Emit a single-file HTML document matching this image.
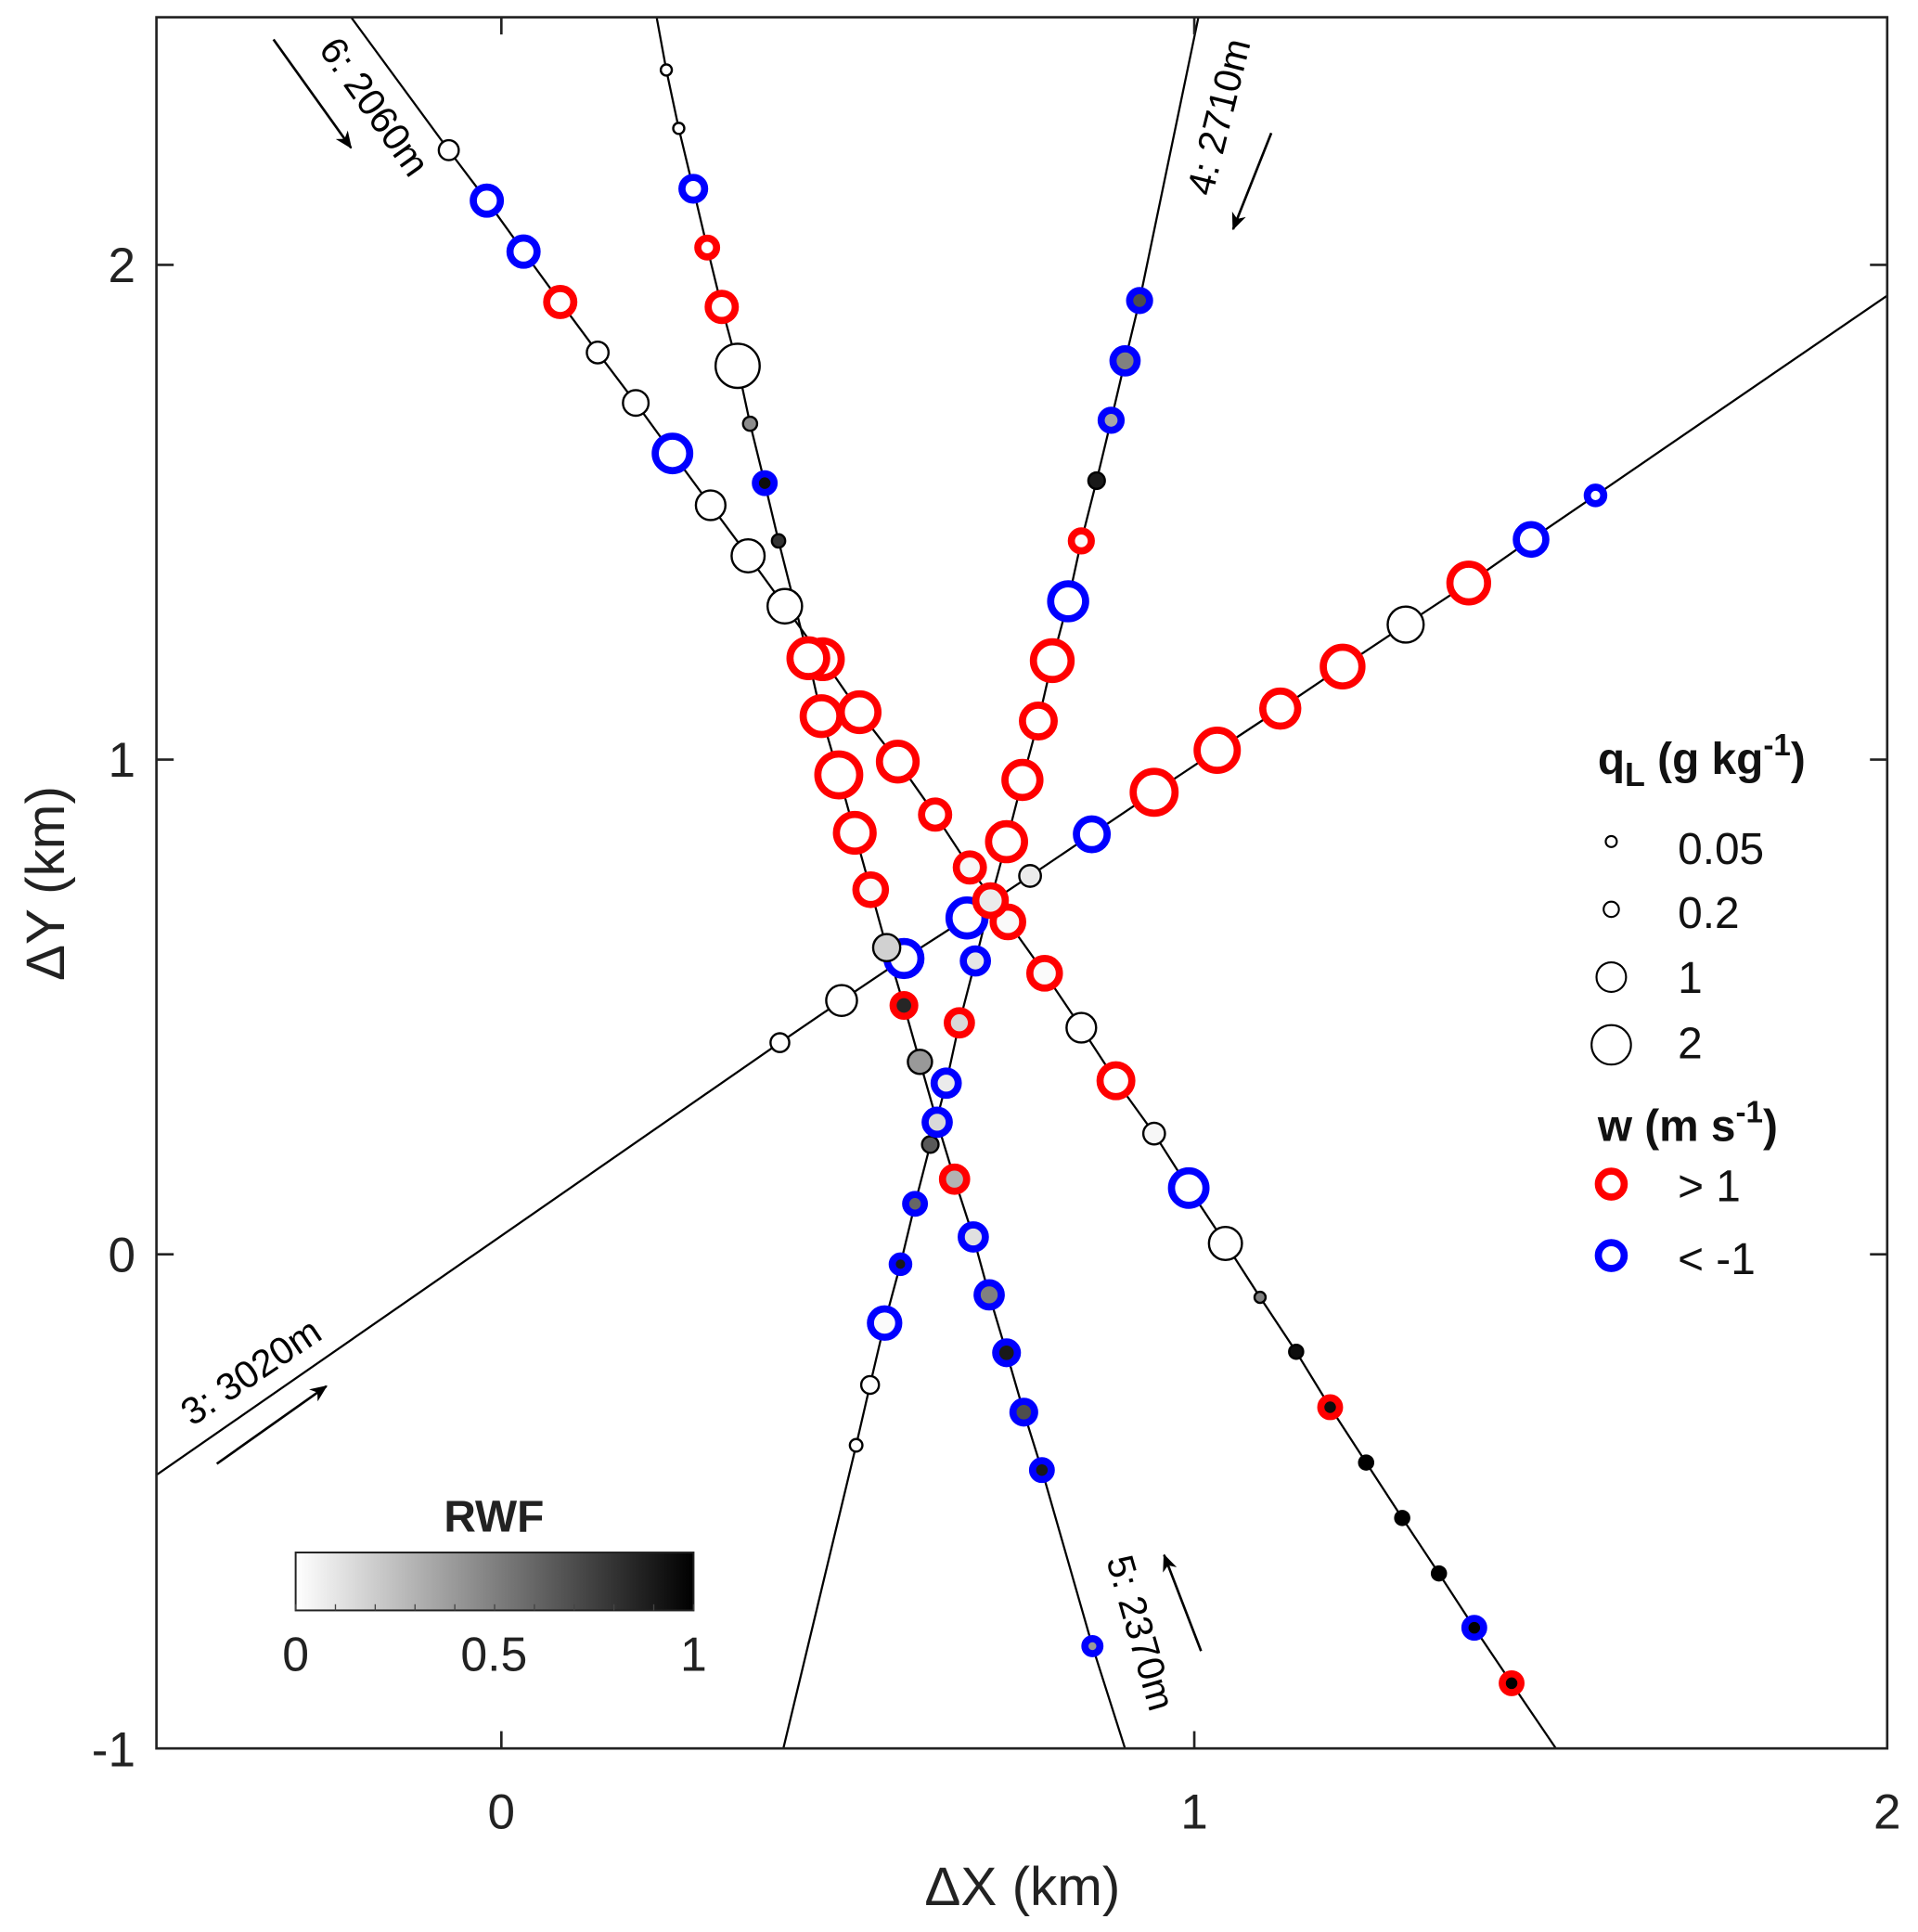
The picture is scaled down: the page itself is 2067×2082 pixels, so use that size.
<!DOCTYPE html>
<html><head><meta charset="utf-8"><style>
html,body{margin:0;padding:0;background:#fff;}
svg{display:block;font-family:"Liberation Sans",Arial,sans-serif;}
</style></head><body>
<svg id="chart" width="2067" height="2082" viewBox="0 0 1557 1568" preserveAspectRatio="none" xmlns="http://www.w3.org/2000/svg">
<defs>
<linearGradient id="rwfgrad" x1="0" x2="1" y1="0" y2="0"><stop offset="0" stop-color="#fff"/><stop offset="1" stop-color="#000"/></linearGradient>
<marker id="arr" markerWidth="14" markerHeight="12" refX="13" refY="6" orient="auto" markerUnits="userSpaceOnUse"><path d="M0,0 L14,6 L0,12 L4,6 Z" fill="#000"/></marker>
</defs>
<g id="lines"></g>
<g id="points"></g>
<rect x="127" y="14" width="1405" height="1405" fill="none" stroke="#222" stroke-width="2"/>
<g id="axes"></g>
<text x="830" y="1546" font-size="44" text-anchor="middle" fill="#222">ΔX (km)</text>
<text transform="translate(52,717) rotate(-90)" font-size="44" text-anchor="middle" fill="#222">ΔY (km)</text>
<!-- transect labels -->
<text transform="translate(258,40) rotate(54.7)" font-size="31" fill="#000">6: 2060m</text>
<line x1="222" y1="32" x2="285" y2="120" stroke="#000" stroke-width="2" marker-end="url(#arr)"/>
<text transform="translate(984,160) rotate(-76)" font-size="31" fill="#000">4: 2710m</text>
<line x1="1032" y1="108" x2="1001" y2="186" stroke="#000" stroke-width="2" marker-end="url(#arr)"/>
<text transform="translate(156,1158) rotate(-34)" font-size="31" fill="#000">3: 3020m</text>
<line x1="176" y1="1188" x2="265" y2="1125" stroke="#000" stroke-width="2" marker-end="url(#arr)"/>
<text transform="translate(898,1266) rotate(74)" font-size="31" fill="#000">5: 2370m</text>
<line x1="975" y1="1340" x2="945" y2="1262" stroke="#000" stroke-width="2" marker-end="url(#arr)"/>
<!-- colorbar -->
<g>
<text x="401" y="1243" font-size="36" font-weight="bold" text-anchor="middle" fill="#222">RWF</text>
<rect x="240" y="1260" width="323" height="47" fill="url(#rwfgrad)" stroke="#222" stroke-width="1.5"/>
<g id="cbticks"></g>
<text x="240" y="1356" font-size="39" text-anchor="middle" fill="#222">0</text>
<text x="401" y="1356" font-size="39" text-anchor="middle" fill="#222">0.5</text>
<text x="563" y="1356" font-size="39" text-anchor="middle" fill="#222">1</text>
</g>
<!-- legend -->
<g>
<text x="1297" y="628" font-size="36" font-weight="bold" fill="#111">q<tspan font-size="27" dy="10">L</tspan><tspan dy="-10"> (g kg</tspan><tspan font-size="25" dy="-15">-1</tspan><tspan dy="15">)</tspan></text>
<circle cx="1308" cy="683" r="4.5" fill="#fff" stroke="#000" stroke-width="1.6"/>
<text x="1362" y="701" font-size="36" fill="#111">0.05</text>
<circle cx="1308" cy="738" r="6.2" fill="#fff" stroke="#000" stroke-width="1.6"/>
<text x="1362" y="753" font-size="36" fill="#111">0.2</text>
<circle cx="1308" cy="793" r="12" fill="#fff" stroke="#000" stroke-width="1.6"/>
<text x="1362" y="806" font-size="36" fill="#111">1</text>
<circle cx="1308" cy="848" r="16" fill="#fff" stroke="#000" stroke-width="1.6"/>
<text x="1362" y="859" font-size="36" fill="#111">2</text>
<text x="1297" y="926" font-size="36" font-weight="bold" fill="#111">w (m s<tspan font-size="25" dy="-15">-1</tspan><tspan dy="15">)</tspan></text>
<circle cx="1308" cy="961" r="10.5" fill="#fff" stroke="#ff0000" stroke-width="5.8"/>
<text x="1362" y="975" font-size="36" fill="#111">&gt; 1</text>
<circle cx="1308" cy="1019" r="10.5" fill="#fff" stroke="#0000ff" stroke-width="5.8"/>
<text x="1362" y="1034" font-size="36" fill="#111">&lt; -1</text>
</g>
</svg>
<script>
// ---- data (km) ----
var t6X=[-0.076,-0.021,0.032,0.085,0.139,0.194,0.247,0.302,0.356,0.409,0.464,0.517,0.572,0.626,0.676,0.731,0.784,0.837,0.887,0.942,0.992,1.045,1.095,1.147,1.196,1.248,1.300,1.353,1.404,1.458];
var t6Y=[2.232,2.130,2.027,1.925,1.823,1.721,1.619,1.514,1.412,1.310,1.203,1.096,0.996,0.889,0.782,0.672,0.568,0.458,0.351,0.244,0.134,0.022,-0.087,-0.197,-0.309,-0.421,-0.533,-0.645,-0.755,-0.867];
var t6Q=[0.35,0.8,0.8,0.8,0.45,0.7,1.45,1.0,1.3,1.45,1.7,1.7,1.7,0.8,0.8,1.0,1.0,1.0,1.2,0.45,1.45,1.3,0.05,0.12,0.3,0.12,0.12,0.12,0.3,0.3];
var t6R=[0,0,0,0,0,0,0,0,0,0,0,0,0,0,0.03,0.02,0.02,0,0,0.03,0,0,0.5,0.95,0.95,1,1,1,1,1];
var t6W=[0,-1,-1,1,0,0,-1,0,0,0,1,1,1,1,1,1,1,0,1,0,-1,0,0,0,1,0,0,0,-1,1];
var t6Ends=[[-0.217,2.501],[1.522,-0.999]];

var t5X=[0.238,0.256,0.277,0.297,0.318,0.341,0.359,0.380,0.400,0.443,0.462,0.487,0.510,0.533,0.556,0.581,0.604,0.629,0.654,0.681,0.704,0.729,0.754,0.780,0.853];
var t5Y=[2.394,2.276,2.154,2.035,1.915,1.796,1.679,1.559,1.442,1.205,1.088,0.969,0.852,0.737,0.620,0.503,0.389,0.267,0.152,0.035,-0.082,-0.199,-0.319,-0.436,-0.792];
var t5Q=[0.05,0.05,0.5,0.3,0.8,2.6,0.12,0.3,0.1,1.7,1.7,2.3,1.7,1.0,0.8,0.45,0.6,0.6,0.6,0.6,0.6,0.45,0.45,0.3,0.15];
var t5R=[0,0,0,0,0,0,0.45,0.95,0.8,0,0,0,0,0.02,0.18,0.85,0.4,0.15,0.3,0.12,0.5,0.9,0.7,0.9,0.4];
var t5W=[0,0,-1,1,1,0,0,-1,0,1,1,1,1,1,0,1,0,-1,1,-1,-1,-1,-1,-1,-1];
var t5Ends=[[0.224,2.501],[0.900,-0.999]];

var t4X=[0.921,0.900,0.880,0.859,0.837,0.818,0.795,0.775,0.752,0.729,0.706,0.684,0.661,0.642,0.619,0.597,0.576,0.553,0.532,0.512];
var t4Y=[1.928,1.806,1.686,1.564,1.442,1.320,1.200,1.078,0.959,0.834,0.715,0.593,0.468,0.346,0.222,0.102,-0.020,-0.139,-0.264,-0.386];
var t4Q=[0.35,0.6,0.35,0.2,0.35,1.5,1.8,1.2,1.5,1.6,1.0,0.6,0.6,0.6,0.2,0.3,0.2,0.9,0.25,0.08];
var t4R=[0.7,0.5,0.35,0.9,0.02,0,0,0,0,0,0.08,0.1,0.15,0.08,0.65,0.6,0.9,0.02,0,0];
var t4W=[-1,-1,-1,0,1,-1,1,1,1,1,1,-1,1,-1,0,-1,-1,-1,0,0];
var t4Ends=[[1.006,2.501],[0.407,-0.999]];

var t3X=[0.402,0.491,0.581,0.672,0.763,0.852,0.942,1.033,1.124,1.214,1.305,1.396,1.486,1.579];
var t3Y=[0.428,0.513,0.598,0.680,0.765,0.849,0.934,1.019,1.103,1.188,1.273,1.357,1.445,1.534];
var t3Q=[0.3,1.1,1.4,1.6,0.45,1.1,2.3,2.1,1.5,1.9,1.6,1.8,1.0,0.2];
var t3R=[0,0,0,0,0.08,0,0,0,0,0,0,0,0,0];
var t3W=[0,0,-1,-1,0,-1,1,1,1,1,0,1,-1,-1];
var t3Ends=[[-0.498,-0.446],[2.0,1.938]];

var xTicks=[0,1,2];
var yTicks=[-1,0,1,2];
var cbTicks=[0,0.1,0.2,0.3,0.4,0.5,0.6,0.7,0.8,0.9,1];

// ---- axes ----
var NS='http://www.w3.org/2000/svg';
function sx(v){return 407+v*562.5;}
function sy(v){return 1018-v*401.5;}
function rad(q){return 2.34+9.66*Math.sqrt(q);}
function gray(r){var g=Math.round(255*(1-r));return 'rgb('+g+','+g+','+g+')';}
function mk(tag,attrs,parent){var e=document.createElementNS(NS,tag);for(var k in attrs)e.setAttribute(k,attrs[k]);parent.appendChild(e);return e;}

var linesG=document.getElementById('lines');
var ptsG=document.getElementById('points');
var axG=document.getElementById('axes');

var transects=[
 {id:'3',X:t3X,Y:t3Y,Q:t3Q,R:t3R,W:t3W,E:t3Ends},
 {id:'6',X:t6X,Y:t6Y,Q:t6Q,R:t6R,W:t6W,E:t6Ends},
 {id:'4',X:t4X,Y:t4Y,Q:t4Q,R:t4R,W:t4W,E:t4Ends},
 {id:'5',X:t5X,Y:t5Y,Q:t5Q,R:t5R,W:t5W,E:t5Ends}
];
transects.forEach(function(t){
  var pts=[[t.E[0][0],t.E[0][1]]];
  for(var i=0;i<t.X.length;i++)pts.push([t.X[i],t.Y[i]]);
  pts.push([t.E[1][0],t.E[1][1]]);
  var d=pts.map(function(p,i){return (i?'L':'M')+sx(p[0]).toFixed(1)+','+sy(p[1]).toFixed(1);}).join(' ');
  var pl=mk('path',{d:d,fill:'none',stroke:'#000','stroke-width':1.7},linesG);
  
  
});
transects.forEach(function(t){
  for(var i=0;i<t.X.length;i++){
    var w=t.W[i];
    var c=mk('circle',{cx:sx(t.X[i]).toFixed(1),cy:sy(t.Y[i]).toFixed(1),r:rad(t.Q[i]).toFixed(1),
      fill:gray(t.R[i]),stroke:w>0?'#ff0000':(w<0?'#0000ff':'#000'),'stroke-width':w!==0?5.8:1.8},ptsG);
    
    
  }
});
xTicks.forEach(function(v){
  var x=sx(v);
  if(v<2){
    var a=mk('line',{x1:x,y1:1419,x2:x,y2:1405,stroke:'#222','stroke-width':2},axG);
    
    var b=mk('line',{x1:x,y1:14,x2:x,y2:28,stroke:'#222','stroke-width':2},axG);
    
  }
  var tx=mk('text',{x:x,y:1484,'font-size':40,'text-anchor':'middle',fill:'#222'},axG);
  tx.textContent=String(v);
  
  
});
yTicks.forEach(function(v){
  var y=sy(v);
  if(v>-1){
    var a=mk('line',{x1:127,y1:y,x2:141,y2:y,stroke:'#222','stroke-width':2},axG);
    
    var b=mk('line',{x1:1532,y1:y,x2:1518,y2:y,stroke:'#222','stroke-width':2},axG);
    
  }
  var tx=mk('text',{x:110,y:y+14,'font-size':40,'text-anchor':'end',fill:'#222'},axG);
  tx.textContent=String(v);
  
  
});
var cbG=document.getElementById('cbticks');
cbTicks.forEach(function(v){
  var x=240+v*323;
  var l=mk('line',{x1:x,y1:1307,x2:x,y2:1302,stroke:'#444','stroke-width':1},cbG);
  
  
});
</script>
</body></html>
